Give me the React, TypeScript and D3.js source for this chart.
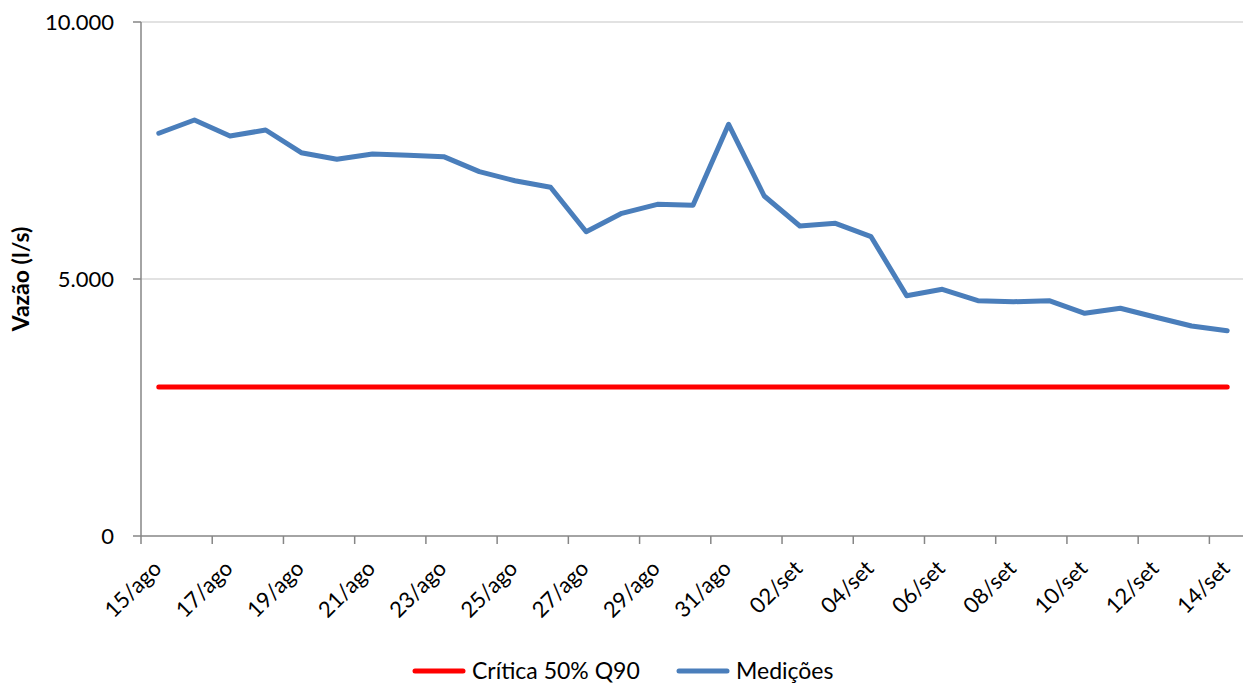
import { useEffect, useRef } from "react";
import * as d3 from "d3";

const dias = [
  "15/ago", "16/ago", "17/ago", "18/ago", "19/ago", "20/ago", "21/ago", "22/ago",
  "23/ago", "24/ago", "25/ago", "26/ago", "27/ago", "28/ago", "29/ago", "30/ago",
  "31/ago", "01/set", "02/set", "03/set", "04/set", "05/set", "06/set", "07/set",
  "08/set", "09/set", "10/set", "11/set", "12/set", "13/set", "14/set",
];

const medicoes = [
  7835, 8093, 7782, 7899, 7457, 7329, 7432, 7406, 7380, 7088, 6912, 6784, 5920,
  6278, 6453, 6434, 8010, 6615, 6031, 6083, 5823, 4675, 4800, 4578, 4558, 4578,
  4333, 4430, 4255, 4086, 3994,
];

const critica = 2900;

const yTicks = [0, 5000, 10000];

const W = 1243;
const H = 687;
const FONT = "Lato, 'Open Sans', sans-serif";

export default function App() {
  const svgRef = useRef<SVGSVGElement | null>(null);

  useEffect(() => {
    if (!svgRef.current) return;
    const svg = d3.select(svgRef.current);
    svg.selectAll("*").remove();

    const x = d3.scaleBand<string>().domain(dias).range([141, 1245]);
    const y = d3.scaleLinear().domain([0, 10000]).range([536, 22]);
    const cx = (d: string) => (x(d) as number) + x.bandwidth() / 2;

    // grid lines
    svg
      .append("g")
      .selectAll("line")
      .data(yTicks.filter((t) => t > 0))
      .join("line")
      .attr("x1", 141)
      .attr("x2", 1245)
      .attr("y1", (d) => y(d))
      .attr("y2", (d) => y(d))
      .attr("stroke", "#d9d9d9")
      .attr("stroke-width", 1.5);

    // y axis
    const yAxis = svg.append("g");
    yAxis
      .append("line")
      .attr("x1", 141)
      .attr("x2", 141)
      .attr("y1", y(10000))
      .attr("y2", y(0))
      .attr("stroke", "#868686")
      .attr("stroke-width", 1.5);
    yAxis
      .selectAll("line.tick")
      .data(yTicks)
      .join("line")
      .attr("class", "tick")
      .attr("x1", 133)
      .attr("x2", 141)
      .attr("y1", (d) => y(d))
      .attr("y2", (d) => y(d))
      .attr("stroke", "#868686")
      .attr("stroke-width", 1.5);
    const fmt = d3.formatLocale({
      decimal: ",",
      thousands: ".",
      grouping: [3],
      currency: ["R$", ""],
    }).format(",d");
    yAxis
      .selectAll("text")
      .data(yTicks)
      .join("text")
      .attr("x", 114)
      .attr("y", (d) => y(d))
      .attr("dy", "0.35em")
      .attr("text-anchor", "end")
      .attr("font-family", FONT)
      .attr("font-size", 22)
      .attr("fill", "#000")
      .text((d) => fmt(d));

    svg
      .append("text")
      .attr("transform", `translate(29,${y(5000)}) rotate(-90)`)
      .attr("text-anchor", "middle")
      .attr("font-family", FONT)
      .attr("font-size", 23)
      .attr("font-weight", "bold")
      .text("Vazão (l/s)");

    // x axis
    const xAxis = svg.append("g");
    xAxis
      .append("line")
      .attr("x1", 141)
      .attr("x2", 1245)
      .attr("y1", y(0))
      .attr("y2", y(0))
      .attr("stroke", "#868686")
      .attr("stroke-width", 1.5);
    const labeled = dias.filter((_, i) => i % 2 === 0);
    xAxis
      .selectAll("line.tick")
      .data(labeled)
      .join("line")
      .attr("class", "tick")
      .attr("x1", (d) => x(d) as number)
      .attr("x2", (d) => x(d) as number)
      .attr("y1", y(0))
      .attr("y2", y(0) + 8)
      .attr("stroke", "#868686")
      .attr("stroke-width", 1.5);
    xAxis
      .selectAll("text")
      .data(labeled)
      .join("text")
      .attr("transform", (d) => `translate(${cx(d) + 4},${y(0) + 34}) rotate(-45)`)
      .attr("text-anchor", "end")
      .attr("font-family", FONT)
      .attr("font-size", 22)
      .text((d) => d);

    // critical line
    svg
      .append("line")
      .attr("x1", cx(dias[0]))
      .attr("x2", cx(dias[dias.length - 1]))
      .attr("y1", y(critica))
      .attr("y2", y(critica))
      .attr("stroke", "#ff0000")
      .attr("stroke-width", 5)
      .attr("stroke-linecap", "round");

    // measurements
    const line = d3
      .line<number>()
      .x((_, i) => cx(dias[i]))
      .y((d) => y(d));
    svg
      .append("path")
      .datum(medicoes)
      .attr("d", line)
      .attr("fill", "none")
      .attr("stroke", "#4a7ebb")
      .attr("stroke-width", 5)
      .attr("stroke-linejoin", "round")
      .attr("stroke-linecap", "round");

    // legend
    const legend = [
      { name: "Crítica 50% Q90", color: "#ff0000", x: 415 },
      { name: "Medições", color: "#4a7ebb", x: 679 },
    ];
    const lg = svg
      .append("g")
      .selectAll("g")
      .data(legend)
      .join("g")
      .attr("transform", (d) => `translate(${d.x},671)`);
    lg.append("line")
      .attr("x1", 0)
      .attr("x2", 48)
      .attr("stroke", (d) => d.color)
      .attr("stroke-width", 5)
      .attr("stroke-linecap", "round");
    lg.append("text")
      .attr("x", 57)
      .attr("dy", "0.35em")
      .attr("font-family", FONT)
      .attr("font-size", 23)
      .text((d) => d.name);
  }, []);

  return (
    <svg
      ref={svgRef}
      width={W}
      height={H}
      style={{ position: "absolute", left: 0, top: 0, background: "#fff" }}
    />
  );
}
